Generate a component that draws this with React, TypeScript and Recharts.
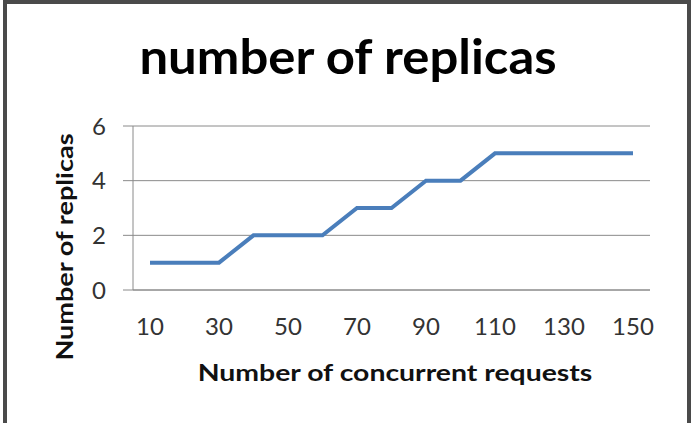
import { LineChart, Line, XAxis, YAxis, CartesianGrid } from 'recharts';

const requests = [10, 20, 30, 40, 50, 60, 70, 80, 90, 100, 110, 120, 130, 140, 150];
const replicas = [1, 1, 1, 2, 2, 2, 3, 3, 4, 4, 5, 5, 5, 5, 5];
const yTicks = [0, 2, 4, 6];

const data = requests.map((r, i) => ({ requests: String(r), replicas: replicas[i] }));

const font = 'Lato, "Open Sans", sans-serif';

export default function App() {
  return (
    <div style={{ position: 'absolute', left: 0, top: 0, width: 696, height: 423, background: '#fff', fontFamily: font }}>
      <div
        style={{
          position: 'absolute', left: 3, top: 0, width: 680, height: 423,
          borderTop: '4px solid #4a4a4a', borderLeft: '4px solid #4a4a4a', borderRight: '4px solid #4a4a4a',
        }}
      />
      <div
        style={{
          position: 'absolute', left: 0, top: 27, width: 696, textAlign: 'center', fontSize: 48, fontWeight: 700,
          color: '#000', lineHeight: '58px', transform: 'scaleX(1.06)',
        }}
      >
        number of replicas
      </div>
      <LineChart width={696} height={423} data={data} margin={{ top: 126, right: 46, bottom: 83, left: 93 }}>
        <CartesianGrid vertical={false} stroke="#8a8a8a" />
        <XAxis
          dataKey="requests"
          interval={1}
          padding={{ left: 17, right: 17 }}
          tickLine={false}
          tickSize={0}
          tickMargin={28}
          height={50}
          axisLine={{ stroke: '#8a8a8a' }}
          tick={{ fill: '#333', fontSize: 24, fontFamily: font }}
        />
        <YAxis
          domain={[0, 6]}
          ticks={yTicks}
          width={40}
          tickSize={10}
          tickMargin={17}
          tickLine={{ stroke: '#8a8a8a' }}
          axisLine={{ stroke: '#8a8a8a' }}
          tick={{ fill: '#333', fontSize: 24, fontFamily: font }}
        />
        <Line dataKey="replicas" stroke="#4a7ebb" strokeWidth={4} dot={false} isAnimationActive={false} />
      </LineChart>
      <div
        style={{
          position: 'absolute', left: 395 - 250, top: 359, width: 500, textAlign: 'center', fontSize: 22,
          fontWeight: 700, color: '#111', lineHeight: '28px', transform: 'scaleX(1.29)',
        }}
      >
        Number of concurrent requests
      </div>
      <div
        style={{
          position: 'absolute', left: 64.5 - 150, top: 246.5 - 14, width: 300, textAlign: 'center',
          fontSize: 22, fontWeight: 700, color: '#111', lineHeight: '28px', transform: 'rotate(-90deg) scaleX(1.23)',
        }}
      >
        Number of replicas
      </div>
    </div>
  );
}
